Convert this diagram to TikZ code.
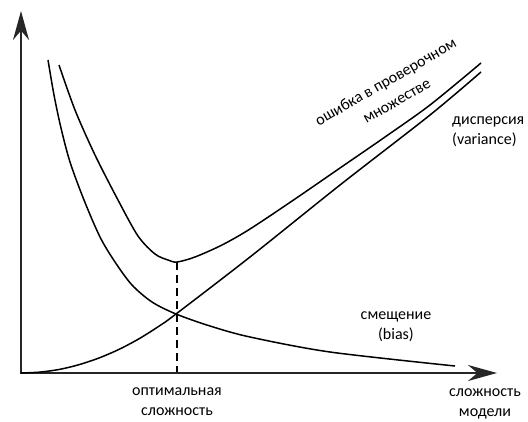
\documentclass[tikz,border=0pt]{standalone}
\usepackage{fontspec}
\setmainfont{Carlito}
\usetikzlibrary{arrows.meta}
\tikzset{
  axis/.style={line width=2.2pt, black!85, -{Stealth[length=29pt,width=16pt]}},
  curve/.style={line width=1.5pt, smooth},
  lbl/.style={font=\fontsize{16}{20}\selectfont, align=center, inner sep=0pt},
}

\begin{document}
\begin{tikzpicture}[x=1pt,y=-1pt]
\useasboundingbox (0,0) rectangle (528,421);
\coordinate (O) at (21,373);
\coordinate (xend) at (497,373);
\coordinate (yend) at (21,11);
\coordinate (optmin) at (177,262);
\coordinate (optbase) at (177,372);

\draw[axis] (O) -- (yend);
\draw[axis] ([xshift=-1.1pt]O) -- (xend);

\draw[curve] plot coordinates {(48,60) (54,95) (61,128) (70,162) (84,200) (100,237) (115,262) (132,285) (152,302) (176,314) (210,326) (250,337) (330,352) (455,366)};
\draw[curve] plot coordinates {(21,373) (40,372.1) (60,369.3) (80,364.4) (100,357.6) (120,348.9) (140,338.2) (160,325.5) (176,314) (250,257) (340,185) (430,115) (481,72)};
\draw[curve] plot coordinates {(59,65) (75,110) (95,155) (118,200) (138,236) (155,254) (168,260) (177,262) (195,257) (222,245) (250,229) (295,199) (340,168) (385,137) (430,105) (481,63)};

\draw[line width=1.5pt, dash pattern=on 8pt off 5pt] (optmin) -- (optbase);

\node[lbl, rotate=30, font=\fontsize{16}{22}\selectfont] (errlabel) at (391,91) {ошибка в проверочном\\множестве};
\node[lbl, align=left, anchor=west] (varlabel) at (452,132) {дисперсия\\(variance)};
\node[lbl] (biaslabel) at (396,327) {смещение\\(bias)};
\node[lbl] (optlabel) at (177,402) {оптимальная\\сложность};
\node[lbl] (xlabel) at (485,404) {сложность\\модели};
\end{tikzpicture}
\end{document}
